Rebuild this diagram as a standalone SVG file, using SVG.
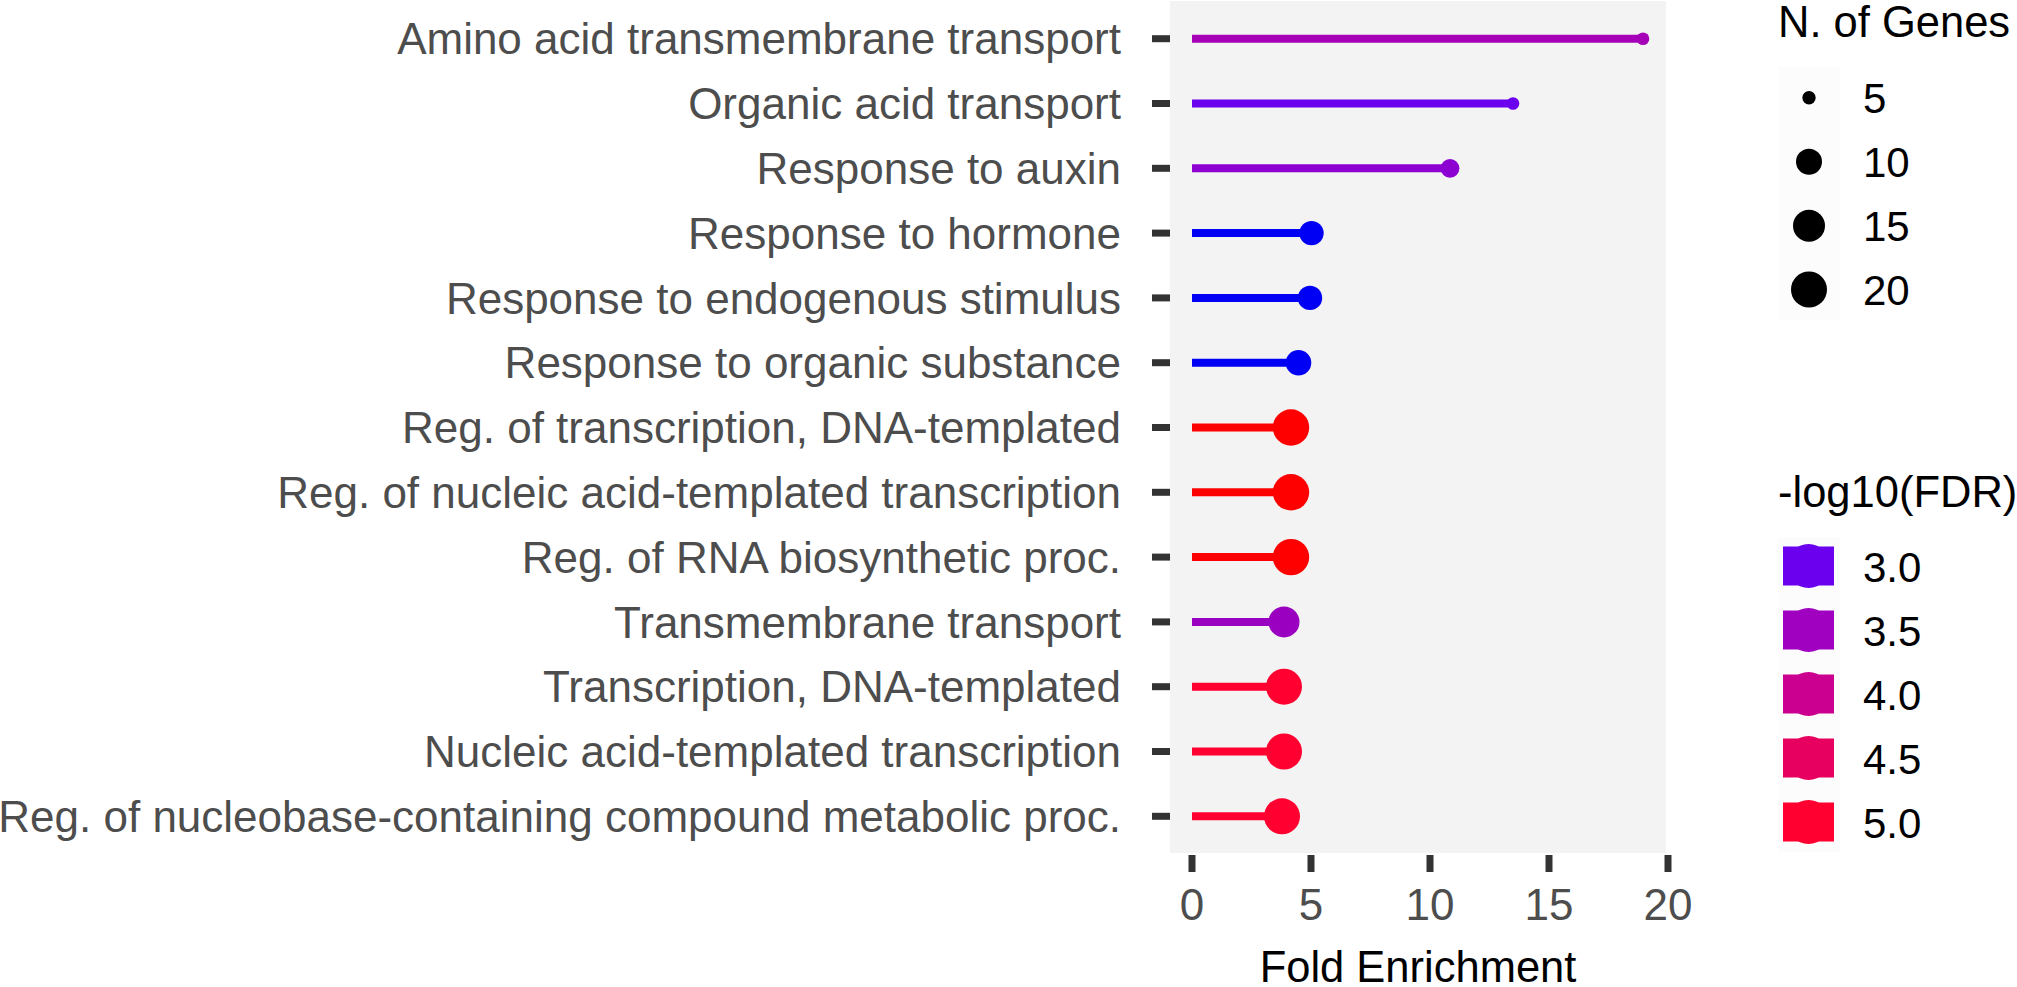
<svg xmlns="http://www.w3.org/2000/svg" width="2017" height="987" viewBox="0 0 2017 987">
<style>
  .lbl { font-family: "Liberation Sans", Arial, Helvetica, sans-serif; font-size: 44px; fill: #4D4D4D; text-anchor: end; }
  .tick { stroke: #333333; stroke-width: 7; }
  .xl { font-family: "Liberation Sans", Arial, Helvetica, sans-serif; font-size: 44px; fill: #4D4D4D; text-anchor: middle; }
  .ttl { font-family: "Liberation Sans", Arial, Helvetica, sans-serif; font-size: 43.5px; fill: #000000; }
  .leg { font-family: "Liberation Sans", Arial, Helvetica, sans-serif; font-size: 42px; fill: #000000; }
  .seg { stroke-width: 8; stroke-linecap: butt; }
</style>
<rect x="0" y="0" width="2017" height="987" fill="#FFFFFF"/>
<g id="panel">
  <rect x="1170" y="1" width="496" height="852" fill="#F3F3F3"/>
</g>
<g id="connectors">
  <line class="seg" x1="1192" y1="38.7" x2="1643" y2="38.7" stroke="#A500B8"/>
  <line class="seg" x1="1192" y1="103.5" x2="1513" y2="103.5" stroke="#6A00EE"/>
  <line class="seg" x1="1192" y1="168.3" x2="1450" y2="168.3" stroke="#8C00D2"/>
  <line class="seg" x1="1192" y1="233.1" x2="1311.5" y2="233.1" stroke="#0000F5"/>
  <line class="seg" x1="1192" y1="297.9" x2="1310" y2="297.9" stroke="#0000F5"/>
  <line class="seg" x1="1192" y1="362.7" x2="1298.5" y2="362.7" stroke="#0000F5"/>
  <line class="seg" x1="1192" y1="427.5" x2="1291" y2="427.5" stroke="#FF0000"/>
  <line class="seg" x1="1192" y1="492.3" x2="1291" y2="492.3" stroke="#FF0000"/>
  <line class="seg" x1="1192" y1="557.1" x2="1291" y2="557.1" stroke="#FF0000"/>
  <line class="seg" x1="1192" y1="621.9" x2="1284" y2="621.9" stroke="#9A00C0"/>
  <line class="seg" x1="1192" y1="686.7" x2="1284" y2="686.7" stroke="#FF0030"/>
  <line class="seg" x1="1192" y1="751.5" x2="1284" y2="751.5" stroke="#FF0030"/>
  <line class="seg" x1="1192" y1="816.3" x2="1282" y2="816.3" stroke="#FF0030"/>
</g>
<g id="row1"><line class="tick" x1="1152" y1="38.7" x2="1170" y2="38.7"/><circle cx="1643" cy="38.7" r="6.3" fill="#A500B8"/><text class="lbl" x="1121" y="54.4">Amino acid transmembrane transport</text></g>
<g id="row2"><line class="tick" x1="1152" y1="103.5" x2="1170" y2="103.5"/><circle cx="1513" cy="103.5" r="6.3" fill="#6A00EE"/><text class="lbl" x="1121" y="119.2">Organic acid transport</text></g>
<g id="row3"><line class="tick" x1="1152" y1="168.3" x2="1170" y2="168.3"/><circle cx="1450" cy="168.3" r="9.4" fill="#8C00D2"/><text class="lbl" x="1121" y="184">Response to auxin</text></g>
<g id="row4"><line class="tick" x1="1152" y1="233.1" x2="1170" y2="233.1"/><circle cx="1311.5" cy="233.1" r="12.2" fill="#0000F5"/><text class="lbl" x="1121" y="248.8">Response to hormone</text></g>
<g id="row5"><line class="tick" x1="1152" y1="297.9" x2="1170" y2="297.9"/><circle cx="1310" cy="297.9" r="12.2" fill="#0000F5"/><text class="lbl" x="1121" y="313.6">Response to endogenous stimulus</text></g>
<g id="row6"><line class="tick" x1="1152" y1="362.7" x2="1170" y2="362.7"/><circle cx="1298.5" cy="362.7" r="12.8" fill="#0000F5"/><text class="lbl" x="1121" y="378.4">Response to organic substance</text></g>
<g id="row7"><line class="tick" x1="1152" y1="427.5" x2="1170" y2="427.5"/><circle cx="1291" cy="427.5" r="18.2" fill="#FF0000"/><text class="lbl" x="1121" y="443.2">Reg. of transcription, DNA-templated</text></g>
<g id="row8"><line class="tick" x1="1152" y1="492.3" x2="1170" y2="492.3"/><circle cx="1291" cy="492.3" r="18.2" fill="#FF0000"/><text class="lbl" x="1121" y="508">Reg. of nucleic acid-templated transcription</text></g>
<g id="row9"><line class="tick" x1="1152" y1="557.1" x2="1170" y2="557.1"/><circle cx="1291" cy="557.1" r="18.2" fill="#FF0000"/><text class="lbl" x="1121" y="572.8">Reg. of RNA biosynthetic proc.</text></g>
<g id="row10"><line class="tick" x1="1152" y1="621.9" x2="1170" y2="621.9"/><circle cx="1284" cy="621.9" r="15.5" fill="#9A00C0"/><text class="lbl" x="1121" y="637.6">Transmembrane transport</text></g>
<g id="row11"><line class="tick" x1="1152" y1="686.7" x2="1170" y2="686.7"/><circle cx="1284" cy="686.7" r="18" fill="#FF0030"/><text class="lbl" x="1121" y="702.4">Transcription, DNA-templated</text></g>
<g id="row12"><line class="tick" x1="1152" y1="751.5" x2="1170" y2="751.5"/><circle cx="1284" cy="751.5" r="18" fill="#FF0030"/><text class="lbl" x="1121" y="767.2">Nucleic acid-templated transcription</text></g>
<g id="row13"><line class="tick" x1="1152" y1="816.3" x2="1170" y2="816.3"/><circle cx="1282" cy="816.3" r="18" fill="#FF0030"/><text class="lbl" x="1121" y="832">Reg. of nucleobase-containing compound metabolic proc.</text></g>
<g id="x-axis">
  <line class="tick" x1="1192" y1="855" x2="1192" y2="872"/>
  <line class="tick" x1="1311" y1="855" x2="1311" y2="872"/>
  <line class="tick" x1="1430" y1="855" x2="1430" y2="872"/>
  <line class="tick" x1="1549" y1="855" x2="1549" y2="872"/>
  <line class="tick" x1="1668" y1="855" x2="1668" y2="872"/>
  <text class="xl" x="1192" y="920">0</text>
  <text class="xl" x="1311" y="920">5</text>
  <text class="xl" x="1430" y="920">10</text>
  <text class="xl" x="1549" y="920">15</text>
  <text class="xl" x="1668" y="920">20</text>
  <text class="ttl" x="1418" y="982" text-anchor="middle">Fold Enrichment</text>
</g>
<g id="legend-size">
  <text class="ttl" x="1778" y="37">N. of Genes</text>
  <rect x="1778" y="67" width="62" height="253" fill="#FCFCFC"/>
  <circle cx="1809" cy="97.7" r="6.7" fill="#000000"/>
  <circle cx="1809" cy="161.7" r="13" fill="#000000"/>
  <circle cx="1809" cy="225.7" r="16" fill="#000000"/>
  <circle cx="1809" cy="289.5" r="18" fill="#000000"/>
  <text class="leg" x="1863" y="113">5</text>
  <text class="leg" x="1863" y="177">10</text>
  <text class="leg" x="1863" y="241">15</text>
  <text class="leg" x="1863" y="305">20</text>
</g>
<g id="legend-color">
  <text class="ttl" x="1778" y="507">-log10(FDR)</text>
  <rect x="1778" y="537" width="62" height="315" fill="#FCFCFC"/>
  <rect x="1783" y="546.5" width="51" height="39" fill="#6A00EE"/><circle cx="1808.5" cy="566" r="22" fill="#6A00EE"/>
  <rect x="1783" y="610.5" width="51" height="39" fill="#A000C0"/><circle cx="1808.5" cy="630" r="22" fill="#A000C0"/>
  <rect x="1783" y="674.5" width="51" height="39" fill="#CC0090"/><circle cx="1808.5" cy="694" r="22" fill="#CC0090"/>
  <rect x="1783" y="738.5" width="51" height="39" fill="#E80060"/><circle cx="1808.5" cy="758" r="22" fill="#E80060"/>
  <rect x="1783" y="802.5" width="51" height="39" fill="#FF0030"/><circle cx="1808.5" cy="822" r="22" fill="#FF0030"/>
  <text class="leg" x="1863" y="582">3.0</text>
  <text class="leg" x="1863" y="646">3.5</text>
  <text class="leg" x="1863" y="710">4.0</text>
  <text class="leg" x="1863" y="774">4.5</text>
  <text class="leg" x="1863" y="838">5.0</text>
</g>
</svg>
